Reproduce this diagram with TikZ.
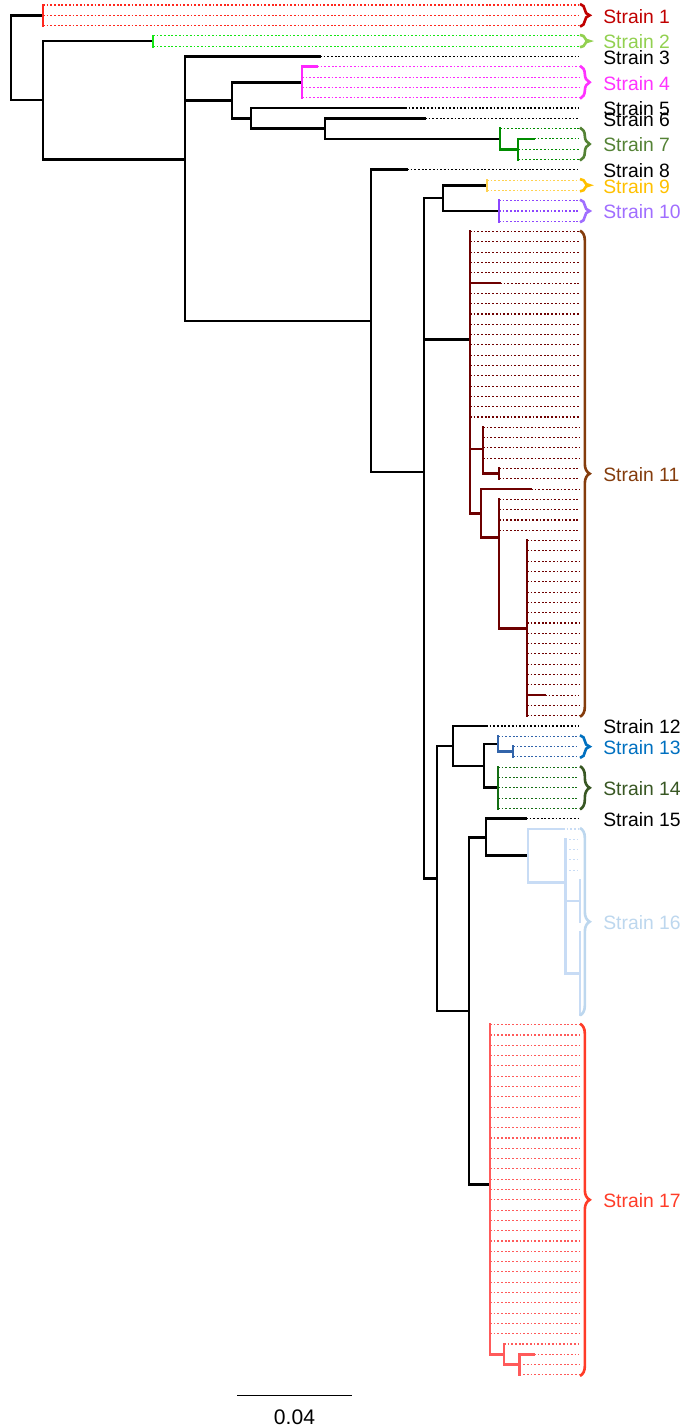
\documentclass[tikz,border=0pt]{standalone}
\usepackage{fontspec}
\setmainfont{Liberation Sans}
\usetikzlibrary{decorations.pathreplacing}
\definecolor{br1}{RGB}{255,40,30}
\definecolor{lb1}{RGB}{192,0,0}
\definecolor{br2}{RGB}{20,230,20}
\definecolor{lb2}{RGB}{146,208,80}
\definecolor{br4}{RGB}{255,40,255}
\definecolor{lb4}{RGB}{255,51,255}
\definecolor{br7}{RGB}{0,140,0}
\definecolor{lb7}{RGB}{84,130,53}
\definecolor{br9}{RGB}{255,210,80}
\definecolor{lb9}{RGB}{255,192,0}
\definecolor{br10}{RGB}{140,70,255}
\definecolor{lb10}{RGB}{160,110,255}
\definecolor{br11}{RGB}{110,0,0}
\definecolor{lb11}{RGB}{132,60,12}
\definecolor{br13}{RGB}{50,100,170}
\definecolor{lb13}{RGB}{0,112,192}
\definecolor{br14}{RGB}{20,110,20}
\definecolor{lb14}{RGB}{56,87,35}
\definecolor{br16}{RGB}{200,220,245}
\definecolor{lb16}{RGB}{189,215,238}
\definecolor{br17}{RGB}{255,90,90}
\definecolor{lb17}{RGB}{255,60,40}
\tikzset{
  tree details/.style={
    x=0.02cm, y=-0.02cm,
    branch/.style={line width=1.55pt, line cap=rect},
    tipline/.style={line width=0.6pt, dash pattern=on 1pt off 1.1pt},
    clade brace/.style={line width=1.5pt, decorate, decoration={brace, amplitude=5.5pt}},
    strain label/.style={anchor=west, inner sep=0pt, font=\fontsize{11}{13}\selectfont},
  }
}

\begin{document}
\begin{tikzpicture}[tree details]
\useasboundingbox (0,0) rectangle (686,1428);
% inner nodes
\coordinate (root) at (11,57.7);
\coordinate (n43) at (43,100.13);
\coordinate (n185) at (185,159.2);
\coordinate (n232) at (232,100.3);
\coordinate (n251) at (251,118.3);
\coordinate (n325) at (325,128.6);
\coordinate (n371) at (371,320.9);
\coordinate (n424) at (424,471.9);
\coordinate (n443) at (443,198.1);
\coordinate (n437) at (437,878.4);
\coordinate (n453) at (453,746.0);
\coordinate (n484) at (484,765.9);
\coordinate (n469) at (469,1010.9);
\coordinate (n486) at (486,837.2);
% clade nodes
\coordinate (s1) at (43,15.3);
\coordinate (s2) at (153,41.05);
\coordinate (s4) at (302,82.25);
\coordinate (s7) at (500,138.9);
\coordinate (s7b) at (518,149.2);
\coordinate (s9) at (487,185.25);
\coordinate (s10) at (499,211);
\coordinate (s11) at (470,339.2);
\coordinate (s11b) at (483,448.9);
\coordinate (s11c) at (499,473.65);
\coordinate (s11d) at (481,513.3);
\coordinate (s11e) at (499,537.5);
\coordinate (s11f) at (527,628.15);
\coordinate (s13) at (498,744.03);
\coordinate (s13b) at (513,751.75);
\coordinate (s14) at (498,787.8);
\coordinate (s16) at (528,855.6);
\coordinate (s16b) at (565.5,882.2);
\coordinate (s16c) at (580,901.1);
\coordinate (s16d) at (580,973.2);
\coordinate (s17) at (490,1184.7);
\coordinate (s17b) at (504,1354.3);
\coordinate (s17c) at (519.5,1364.6);

\foreach \a/\b in {root/s1, root/n43, n43/s2, n43/n185, n185/n232, n185/n371, n232/s4, n232/n251,
  n251/n325, n325/s7, n371/n424, n424/n443, n424/s11, n424/n437, n443/s9, n443/s10, n437/n453,
  n437/n469, n453/n484, n484/s13, n484/s14, n469/n486, n469/s17, n486/s16}
  \draw[branch] (\a) |- (\b);

% leaves: parent / tip x / first / last / colour
\foreach \pn/\tx/\ia/\ib/\col in {s1/43/0/2/br1, s2/153/3/4/br2, n185/320/5/5/black,
  s4/317/6/6/br4, s4/302/7/9/br4, n251/405/10/10/black, n325/425/11/11/black,
  s7/500/12/12/br7, s7b/534/13/13/br7, s7b/518/14/15/br7, n371/407/16/16/black,
  s9/487/17/18/br9, s10/499/19/21/br10,
  s11/470/22/26/br11, s11/500/27/27/br11, s11/470/28/40/br11, s11b/483/41/44/br11,
  s11c/499/45/46/br11, s11d/531/47/47/br11, s11e/499/48/51/br11, s11f/527/52/66/br11,
  s11f/545/67/67/br11, s11f/527/68/69/br11,
  n453/486/70/70/black, s13/498/71/71/br13, s13b/513/72/73/br13, s14/498/74/78/br14,
  n486/526/79/79/black, s16/563/80/80/br16, s16b/565.5/81/84/br16, s16c/580/85/89/br16,
  s16d/580/90/98/br16, s17/490/99/129/br17, s17b/504/130/130/br17, s17c/534/131/131/br17,
  s17c/519.5/132/133/br17}{
  \foreach \i in {\ia,...,\ib}{
    \draw[tipline,\col] (\tx,{5+10.3*\i}) coordinate (t\i) -- (579,{5+10.3*\i});
    \draw[branch,\col] (\pn) |- (t\i);
  }
}

\foreach \a/\b/\col in {s7/s7b/br7, s11/s11b/br11, s11/s11d/br11, s11b/s11c/br11, s11d/s11e/br11,
  s11e/s11f/br11, s13/s13b/br13, s16/s16b/br16, s16b/s16c/br16, s16b/s16d/br16,
  s17/s17b/br17, s17b/s17c/br17}
  \draw[branch,\col] (\a) |- (\b);

% brackets and names
\foreach \ia/\ib/\col in {0/2/lb1, 3/4/lb2, 6/9/lb4, 12/15/lb7, 17/18/lb9, 19/21/lb10,
  22/69/lb11, 71/73/lb13, 74/78/lb14, 80/98/lb16, 99/133/lb17}
  \draw[clade brace,\col] (580,{5+10.3*\ia-1}) -- (580,{5+10.3*\ib+1});

\foreach \n/\ym/\col in {1/15.3/lb1, 2/41.05/lb2, 3/56.5/black, 4/82.25/lb4, 5/108/black,
  6/118.3/black, 7/144.05/lb7, 8/169.8/black, 9/185.25/lb9, 10/211/lb10, 11/473.65/lb11,
  12/726/black, 13/746.6/lb13, 14/787.8/lb14, 15/818.7/black, 16/921.7/lb16, 17/1199.8/lb17}
  \node[strain label, text=\col] (lab\n) at (603,{\ym+1}) {Strain \n};

% scale bar
\coordinate (sbl) at (237,1395.7);
\coordinate (sbr) at (352,1395.7);
\draw[line width=0.6pt] (sbl) -- (sbr);
\node[inner sep=0pt, font=\fontsize{12}{14}\selectfont] (sbtext) at (294.5,1417) {0.04};
\end{tikzpicture}
\end{document}
